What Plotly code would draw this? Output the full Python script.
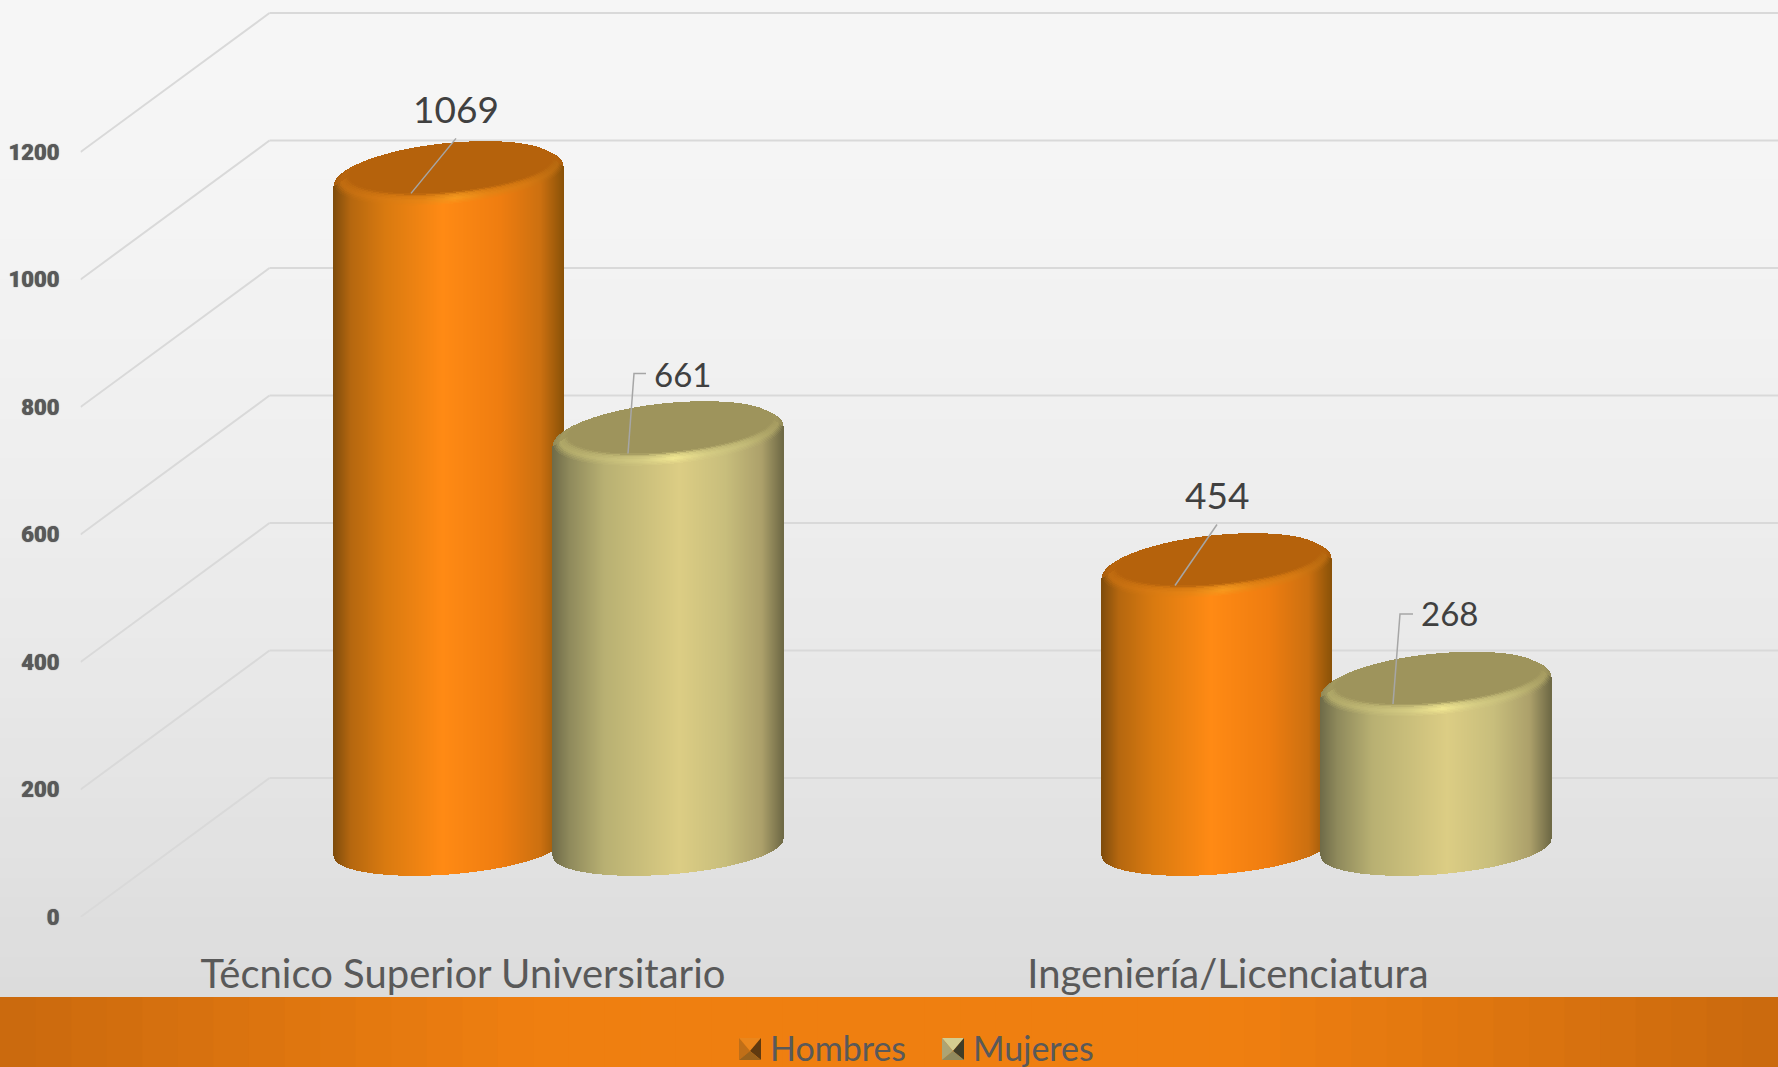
"""Cilindros 3D de matrícula por nivel, dibujados con barras finas sobre ejes 2D."""

from __future__ import annotations

import plotly.graph_objects as go

categories = ["Técnico Superior Universitario", "Ingeniería/Licenciatura"]
hombres = [1069, 454]
mujeres = [661, 268]
y_ticks = [0, 200, 400, 600, 800, 1000, 1200]

WIDTH, HEIGHT = 1778, 1067
FOOTER_TOP = 997
AXIS_LEFT, AXIS_BOTTOM = 80.5, 917      # píxeles del cruce de ejes
PX_PER_CAT = 765.0                      # píxeles por categoría
PX_PER_UNIT = 0.6375                    # píxeles por unidad de valor
DX = 1 / PX_PER_CAT
DY = 1 / PX_PER_UNIT

WALL_X = 189 * DX                       # desplazamiento de la pared del fondo
WALL_Y = 139 * DY
MID_Y = WALL_Y / 2
BAR_OFFSET = 128 * DX                   # centro de la pareja respecto a la etiqueta
BAR_STEP = 1 + 3 * DX
STRIP = 1 * DX

ORANGE_BODY = [(-1, "#7f4c0c"), (-0.85, "#b5670f"), (-0.55, "#d97a10"), (-0.05, "#ff8a14"),
               (0.45, "#ef7d10"), (0.8, "#cc7010"), (1, "#8a5208")]
GOLD_BODY = [(-1, "#6f6b48"), (-0.85, "#8f8a5c"), (-0.55, "#b8b072"), (0.1, "#dccd84"),
             (0.5, "#c8be7c"), (0.82, "#aca06a"), (1, "#6f6a46")]
ORANGE_RIM = [(-1, "#c06c10"), (-0.6, "#d87a12"), (-0.25, "#e68414"), (0.05, "#f79a1e"),
              (0.35, "#e68414"), (0.7, "#d87a12"), (1, "#b86a10")]
GOLD_RIM = [(-1, "#b0a868"), (-0.6, "#c4bc78"), (-0.25, "#d6cd84"), (0.05, "#f3e993"),
            (0.35, "#d6cd84"), (0.7, "#c4bc78"), (1, "#a89e62")]
ORANGE_FACE = "#b5620c"
GOLD_FACE = "#9e945c"


def _rgb(color: str) -> tuple[int, int, int]:
    return int(color[1:3], 16), int(color[3:5], 16), int(color[5:7], 16)


def _mix(c0: str, c1: str, t: float) -> str:
    a, b = _rgb(c0), _rgb(c1)
    return "#%02x%02x%02x" % tuple(round(a[i] + (b[i] - a[i]) * t) for i in range(3))


def _ramp(stops: list, u: float) -> str:
    for (u0, c0), (u1, c1) in zip(stops, stops[1:]):
        if u <= u1:
            return _mix(c0, c1, max(0.0, (u - u0) / (u1 - u0)))
    return stops[-1][1]


def _bevel_color(body: list, rim: list, face: str, u: float, t: float) -> str:
    if t < 0.45:
        return _mix(_ramp(body, u), _ramp(rim, u), t / 0.45)
    shade = _mix(_ramp(rim, u), face, 0.25)
    if t < 0.75:
        return _mix(_ramp(rim, u), shade, (t - 0.45) / 0.3)
    return _mix(shade, face, min(1.0, (t - 0.75) / 0.2))


def cylinder(center: float, value: float, body: list, rim: list, face: str):
    """Tiras verticales del cilindro: x, base, longitud y color."""
    xs, bases, lengths, colors = [], [], [], []
    half = 115 * DX
    n = int(half / STRIP)
    floor_y = MID_Y
    top_y = value + MID_Y - 16

    # cuerpo
    for i in range(-n, n + 1):
        u = i / n
        w = (1 - u * u) ** 0.5
        low = floor_y + 8.5 * DY * u - 27 * DY * w
        high = top_y + 10 * DY * u
        xs.append(center + i * STRIP)
        bases.append(low)
        lengths.append(high - low)
        colors.append(_ramp(body, u))

    # borde biselado y cara superior, de fuera hacia dentro
    tiers = 10
    for k in range(tiers + 1):
        t = k / tiers
        a = half - 13 * DX * t
        front = (29 - 4.5 * t) * DY
        back = (33 - 8.5 * t) * DY
        cx = center + 2 * DX * t
        cy = top_y + 9 * DY * t
        s = (10 - 1 * t) * DY
        for i in range(-n, n + 1):
            x = center + i * STRIP
            u = (x - cx) / a
            if abs(u) >= 1:
                continue
            w = (1 - u * u) ** 0.5
            color = _bevel_color(body, rim, face, u, t)
            mid = cy + s * u
            # mitad delantera: brillo del bisel
            xs.append(x)
            bases.append(mid - front * w)
            lengths.append(front * w)
            colors.append(color)
            # mitad trasera: casi del color de la cara
            xs.append(x)
            bases.append(mid)
            lengths.append(back * w)
            colors.append(_mix(color, face, 0.75))
    return xs, bases, lengths, colors


def series_trace(values: list, side: float, name: str, body: list, rim: list, face: str) -> go.Bar:
    xs, bases, lengths, colors = [], [], [], []
    for i, value in enumerate(values):
        part = cylinder(i * BAR_STEP + BAR_OFFSET + side, value, body, rim, face)
        xs += part[0]
        bases += part[1]
        lengths += part[2]
        colors += part[3]
    return go.Bar(
        x=xs, y=lengths, base=bases, width=STRIP, name=name, showlegend=False,
        marker={"color": colors, "line": {"width": 0}}, hoverinfo="skip",
    )


fig = go.Figure()

fig.add_trace(series_trace(hombres, -143 * DX, "Hombres", ORANGE_BODY, ORANGE_RIM, ORANGE_FACE))
fig.add_trace(series_trace(mujeres, 76.5 * DX, "Mujeres", GOLD_BODY, GOLD_RIM, GOLD_FACE))

# entradas de la leyenda: el marcador va transparente, la pirámide se dibuja con formas
for name in ["Hombres", "Mujeres"]:
    fig.add_trace(go.Scatter(
        x=[None], y=[None], mode="markers", name=name,
        marker={"symbol": "square", "size": 22, "color": "rgba(0,0,0,0)"},
    ))

# etiquetas de valor con su línea guía (desplazamientos en píxeles desde el centro de la tapa)
label_specs = [
    (0, hombres[0], -143, (8, 64), 37, [(8, 34), (-37, -21)]),
    (0, mujeres[0], 76.5, (14.5, 58), 33, [(-21.5, 59), (-33.5, 59), (-39.5, -21)]),
    (1, hombres[1], -143, (1, 70), 37, [(1, 40), (-41, -21)]),
    (1, mujeres[1], 76.5, (13.5, 70), 33, [(-22.5, 69), (-35.5, 69), (-42.5, -21)]),
]
for i, value, side, text_off, size, leader in label_specs:
    cx = i * BAR_STEP + BAR_OFFSET + side * DX
    top_y = value + MID_Y - 10
    fig.add_trace(go.Scatter(
        x=[cx + p[0] * DX for p in leader], y=[top_y + p[1] * DY for p in leader],
        mode="lines", showlegend=False, hoverinfo="skip",
        line={"color": "#a6a6a6", "width": 1.5},
    ))
    fig.add_annotation(
        x=cx, y=top_y, text=str(value), showarrow=False,
        xshift=text_off[0], yshift=text_off[1],
        font={"family": "Lato", "size": size, "color": "#404040"},
    )

# fondo gris degradado y franja naranja inferior
shapes = []
bands = 50
for k in range(bands):
    y0 = FOOTER_TOP * k / bands
    y1 = FOOTER_TOP * (k + 1) / bands + 1
    t = k / (bands - 1)
    color = _mix("#f6f6f6", "#dcdcdc", t ** 1.6)
    shapes.append(dict(type="rect", xref="paper", yref="paper", layer="below", x0=0, x1=1,
                       y0=1 - min(y1, FOOTER_TOP) / HEIGHT, y1=1 - y0 / HEIGHT,
                       fillcolor=color, line={"width": 0}))
for k in range(bands):
    t = k / (bands - 1)
    color = _mix("#cb6a0e", "#ef7f10", min(1.0, (1 - abs(2 * t - 1)) * 1.7))
    shapes.append(dict(type="rect", xref="paper", yref="paper", layer="below",
                       x0=k / bands, x1=min(1, (k + 1.2) / bands), y0=0, y1=1 - FOOTER_TOP / HEIGHT,
                       fillcolor=color, line={"width": 0}))

# paredes: líneas de fondo y diagonales hasta el eje frontal
x_right = (WIDTH - AXIS_LEFT) * DX - 0.5
grid_line = {"color": "#d9d9d9", "width": 2}
for tick in y_ticks:
    shapes.append(dict(type="line", xref="x", yref="y", layer="below", x0=-0.5, y0=tick,
                       x1=-0.5 + WALL_X, y1=tick + WALL_Y, line=grid_line))
    shapes.append(dict(type="line", xref="x", yref="y", layer="below", x0=-0.5 + WALL_X, y0=tick + WALL_Y,
                       x1=x_right, y1=tick + WALL_Y, line=grid_line))

# iconos de la leyenda: pirámide de cuatro triángulos (arriba, izquierda, derecha, abajo)
icons = [
    (739, ["#ea861c", "#c06f18", "#5f3a10", "#9a621c"]),
    (942, ["#d4cd90", "#aca474", "#3f3d28", "#908a5e"]),
]
for left, tones in icons:
    x0, x1 = left / WIDTH, (left + 22) / WIDTH
    y0, y1 = 1 - 1060 / HEIGHT, 1 - 1038 / HEIGHT
    xc, yc = (x0 + x1) / 2, (y0 + y1) / 2 - 2 / HEIGHT
    corners = [((x0, y1), (x1, y1)), ((x0, y0), (x0, y1)), ((x1, y1), (x1, y0)), ((x1, y0), (x0, y0))]
    for (p0, p1), tone in zip(corners, tones):
        path = f"M {p0[0]} {p0[1]} L {p1[0]} {p1[1]} L {xc} {yc} Z"
        shapes.append(dict(type="path", xref="paper", yref="paper", path=path,
                           fillcolor=tone, line={"width": 0}))

fig.update_layout(
    width=WIDTH, height=HEIGHT, barmode="overlay", bargap=0, shapes=shapes,
    margin={"l": 0, "r": 0, "t": 0, "b": 0, "autoexpand": False},
    paper_bgcolor="#eeeeee", plot_bgcolor="rgba(0,0,0,0)",
    font={"family": "Lato", "color": "#595959"},
    xaxis=dict(
        domain=[AXIS_LEFT / WIDTH, 1], range=[-0.5, x_right], tickmode="array",
        tickvals=[0, 1], ticktext=categories, showgrid=False, zeroline=False, showline=False,
        ticks="", ticklabelstandoff=30, automargin=False,
        tickfont={"family": "Lato", "size": 40, "color": "#595959"},
    ),
    yaxis=dict(
        domain=[1 - AXIS_BOTTOM / HEIGHT, 1], range=[0, AXIS_BOTTOM * DY], tickmode="array",
        tickvals=y_ticks, showgrid=False, zeroline=False, showline=False,
        ticks="", ticklabelstandoff=20, automargin=False,
        tickfont={"family": "Roboto", "size": 22, "color": "#595959",
                  "weight": 900, "shadow": "0 0 1px #595959"},
    ),
    legend=dict(
        orientation="h", x=730 / WIDTH, y=1 - 1019 / HEIGHT, xanchor="left", yanchor="top",
        bgcolor="rgba(0,0,0,0)", font={"family": "Lato", "size": 34, "color": "#595959"},
        itemsizing="trace", entrywidth=158, entrywidthmode="pixels",
    ),
)

fig.write_html("out.html", config={"displayModeBar": False},
               post_script="document.body.style.margin = '0';")
